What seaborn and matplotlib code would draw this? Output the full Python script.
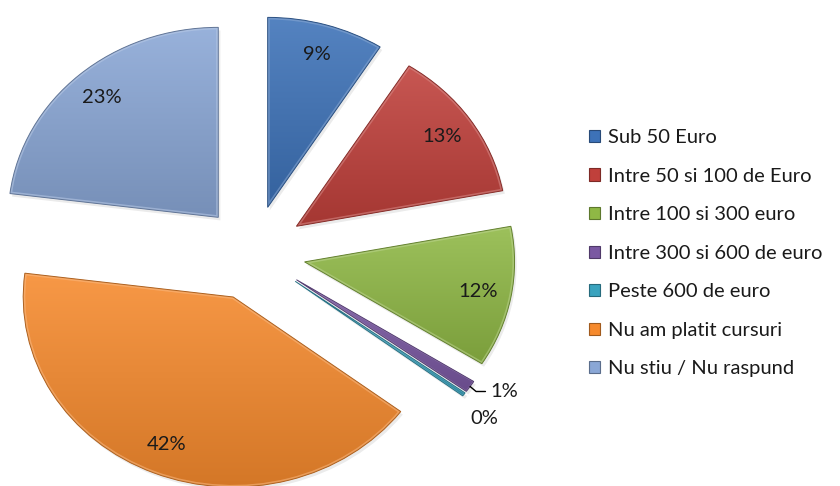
import numpy as np
import matplotlib
matplotlib.use("Agg")
import matplotlib.pyplot as plt
import seaborn as sns
from matplotlib.patches import Wedge, Patch
from matplotlib.colors import to_rgb

# Survey: how much was paid for courses
categories = ["Sub 50 Euro", "Intre 50 si 100 de Euro", "Intre 100 si 300 euro",
              "Intre 300 si 600 de euro", "Peste 600 de euro", "Nu am platit cursuri",
              "Nu stiu / Nu raspund"]
shares = [9, 13, 12, 1, 0.3, 41.7, 23]
colors = ["#3d72b8", "#c0403b", "#8fb845", "#7a58a2", "#3aa3be", "#f68a2d", "#8aa7d6"]

sns.set_theme(style="white")
plt.rcParams["font.family"] = ["Lato", "DejaVu Sans"]

TEXT = "#1a1a1a"
PCT_SIZE = 14.5


def shade(c, f):
    """Lighten toward white (f > 0) or darken toward black (f < 0)."""
    c = np.array(to_rgb(c))
    return c + (1 - c) * f if f >= 0 else c * (1 + f)


fig = plt.figure(figsize=(8.4, 4.86), dpi=100)
ax = fig.add_axes([0, 0, 1, 1])

wedges, _, autotexts = ax.pie(
    shares, explode=[0.25] * len(shares), startangle=90, counterclock=False,
    colors=colors, autopct=lambda p: f"{p:.0f}%", pctdistance=0.84,
    textprops=dict(fontsize=PCT_SIZE, color=TEXT), wedgeprops=dict(linewidth=0))

# slightly wider than tall, like the original worksheet chart
ax.set_aspect("auto")
ax.set_xlim(-253 / 210, 587 / 210)
ax.set_ylim(-233 / 190, 253 / 190)
ax.axis("off")

for w, col in zip(wedges, colors):
    verts = w.get_path().vertices
    x0, y0 = verts.min(0)
    x1, y1 = verts.max(0)
    # soft drop shadow
    sh = Wedge((w.center[0] + 0.010, w.center[1] - 0.016), w.r, w.theta1, w.theta2,
               facecolor="black", alpha=0.08, linewidth=0, zorder=1)
    ax.add_patch(sh)
    # vertical gradient fill clipped to the slice
    t = np.linspace(0, 1, 64)[:, None]
    grad = shade(col, 0.12) * (1 - t) + shade(col, -0.14) * t
    img = ax.imshow(grad[:, None, :], extent=(x0, x1, y0, y1), aspect="auto",
                    origin="upper", zorder=2, interpolation="bilinear")
    img.set_clip_path(w)
    # bevel highlight along the inner edge
    thin = (w.theta2 - w.theta1) < 5
    hl = Wedge(w.center, w.r, w.theta1, w.theta2, facecolor="none",
               edgecolor=shade(col, 0.4), linewidth=1.2 if thin else 3.0,
               alpha=0.55, zorder=3)
    ax.add_patch(hl)
    hl.set_clip_path(w)
    w.set_facecolor("none")
    w.set_edgecolor(shade(col, -0.3))
    w.set_linewidth(0.7)
    w.set_zorder(4)

for t in autotexts:
    t.set_zorder(6)


def tip(w):
    mid = np.deg2rad((w.theta1 + w.theta2) / 2)
    return (w.center[0] + w.r * np.cos(mid), w.center[1] + w.r * np.sin(mid))


# small slices get their labels outside
for i, off, with_line in [(3, (20, -5), True), (4, (20, -24), False)]:
    txt = autotexts[i].get_text()
    autotexts[i].set_visible(False)
    if with_line:
        ax.annotate(txt, xy=tip(wedges[i]), xytext=off, textcoords="offset pixels",
                    ha="left", va="center", fontsize=PCT_SIZE, color=TEXT, zorder=6,
                    arrowprops=dict(arrowstyle="-", color="black", lw=1.0,
                                    shrinkA=1, shrinkB=0,
                                    connectionstyle="angle,angleA=0,angleB=-40,rad=0"))
    else:
        ax.annotate(txt, xy=tip(wedges[i]), xytext=off, textcoords="offset pixels",
                    ha="center", va="center", fontsize=PCT_SIZE, color=TEXT, zorder=6)

handles = [Patch(facecolor=c, edgecolor=shade(c, -0.35), linewidth=0.8) for c in colors]
leg = fig.legend(handles, categories, loc="center left", bbox_to_anchor=(589 / 840, 0.479),
                 frameon=False, fontsize=14.5, handlelength=0.55, handleheight=0.55,
                 handletextpad=0.4, labelspacing=1.07, borderpad=0, borderaxespad=0)
for t in leg.get_texts():
    t.set_color(TEXT)

fig.savefig("out.png", dpi=100, facecolor="white")
